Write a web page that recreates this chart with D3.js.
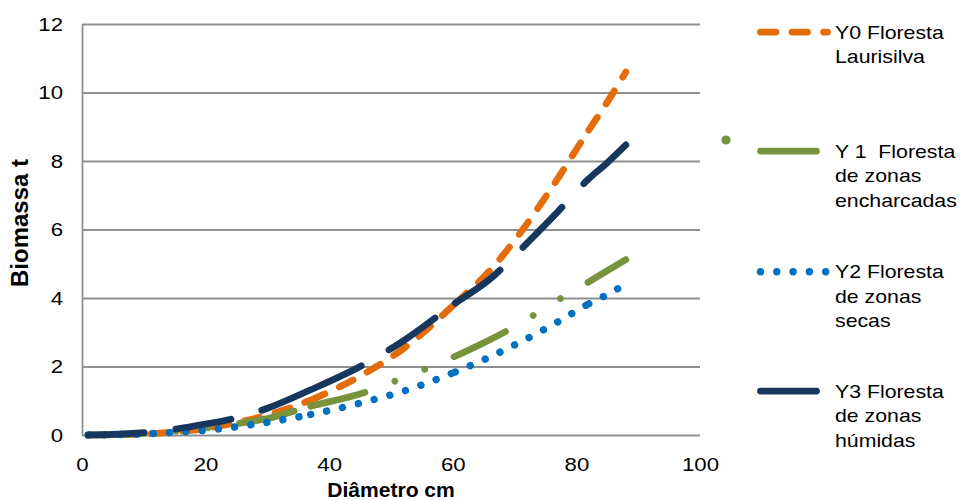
<!DOCTYPE html>
<html>
<head>
<meta charset="utf-8">
<script src="https://cdn.jsdelivr.net/npm/d3@7"></script>
<style>
  body { margin: 0; background: #fff; }
  svg { display: block; font-family: "Liberation Sans", Arial, sans-serif; }
  text { white-space: pre; }
</style>
</head>
<body>
<svg id="chart" width="960" height="500"></svg>
<script>
// Diameter (cm) at which each biomass curve is sampled
const diameters    = [1, 5, 10, 15, 20, 25, 30, 37, 45, 52, 60.4, 66, 71, 76, 82, 85, 88];
// Biomass (t) per forest type
const y0Laurisilva = [0, 0.005, 0.03, 0.09, 0.19, 0.36, 0.58, 1.02, 1.72, 2.52, 3.84, 4.8, 5.92, 7.22, 8.9, 9.72, 10.6];
const y1Encharcadas = [0, 0.01, 0.05, 0.11, 0.2, 0.33, 0.48, 0.84, 1.2, 1.67, 2.3, 2.78, 3.27, 3.83, 4.47, 4.8, 5.12];
const y2Secas      = [0, 0.01, 0.03, 0.08, 0.14, 0.24, 0.37, 0.6, 0.93, 1.28, 1.84, 2.28, 2.72, 3.2, 3.83, 4.1, 4.41];
const y3Humidas    = [0, 0.015, 0.07, 0.17, 0.32, 0.5, 0.78, 1.32, 2.0, 2.75, 3.85, 4.55, 5.42, 6.33, 7.48, 7.95, 8.47];

const seriesNames = [
  ["Y0 Floresta", "Laurisilva"],
  ["Y 1  Floresta", "de zonas", "encharcadas"],
  ["Y2 Floresta", "de zonas", "secas"],
  ["Y3 Floresta", "de zonas", "húmidas"]
];
const xTicks = [0, 20, 40, 60, 80, 100];
const yTicks = [0, 2, 4, 6, 8, 10, 12];
const xTitle = "Diâmetro cm";
const yTitle = "Biomassa t";
// Diameters where each stroke's dash pattern starts over
const dashBreaks = [37, 60.4, 82];

const seriesValues = [y0Laurisilva, y1Encharcadas, y2Secas, y3Humidas];
const seriesColors = ["#E46C0A", "#77933C", "#0070C0", "#17375E"];
const dashPatterns = [
  [15.5, 16],                          // dash
  [56, 32, 0.001, 32, 0.001, 32],      // long dash, dot, dot
  [0.001, 16.3],                       // round dots
  [56, 32]                             // long dash
];
const strokeWidths = [6.75, 6.75, 7.4, 6.75];
const gridColor = "#8f8f8f";

const svg = d3.select("#chart");
const plot = { left: 82, right: 700, top: 24, bottom: 435 };
const x = d3.scaleLinear().domain([0, 100]).range([plot.left, plot.right]);
const y = d3.scaleLinear().domain([0, 12]).range([plot.bottom, plot.top]);

// Widen glyphs along the text direction by a factor (the chart's type is set wide)
function stretch(sel, sx) {
  sel.each(function () {
    const w = this.getComputedTextLength();
    this.setAttribute("textLength", (w * sx).toFixed(2));
    this.setAttribute("lengthAdjust", "spacingAndGlyphs");
  });
}

// Y axis with horizontal gridlines
const yAxis = d3.axisLeft(y).tickValues(yTicks)
  .tickSize(-(plot.right - plot.left)).tickSizeOuter(0)
  .tickFormat(d3.format("d"));
const gy = svg.append("g").attr("transform", `translate(${plot.left},0)`).call(yAxis);
gy.select(".domain").attr("stroke", gridColor).attr("stroke-width", 1.8);
gy.selectAll(".tick line").attr("stroke", gridColor).attr("stroke-width", 1.8);
gy.selectAll(".tick text")
  .attr("x", -19).attr("dy", "0.35em")
  .attr("font-size", 18.5).attr("fill", "#000")
  .attr("font-family", "Liberation Sans, Arial, sans-serif")
  .call(stretch, 1.2);

// X axis labels
const xAxis = d3.axisBottom(x).tickValues(xTicks).tickSize(0).tickFormat(d3.format("d"));
const gx = svg.append("g").attr("transform", `translate(0,${plot.bottom})`).call(xAxis);
gx.select(".domain").remove();
gx.selectAll(".tick text")
  .attr("y", 36).attr("dy", 0)
  .attr("font-size", 18.5).attr("fill", "#000")
  .attr("font-family", "Liberation Sans, Arial, sans-serif")
  .call(stretch, 1.2);

// Axis titles
svg.append("text")
  .attr("x", (plot.left + plot.right) / 2).attr("y", 497)
  .attr("text-anchor", "middle").attr("font-weight", "bold")
  .attr("font-size", 19.5).attr("fill", "#000")
  .text(xTitle).call(stretch, 1.08);

svg.append("text")
  .attr("transform", "translate(28,223) rotate(-90) scale(1,1.15)")
  .attr("text-anchor", "middle").attr("font-weight", "bold")
  .attr("font-size", 20).attr("fill", "#000")
  .text(yTitle).call(stretch, 1.2);

// Dash array that restarts the pattern at each break along the path
function lengthAtX(node, px) {
  let lo = 0, hi = node.getTotalLength();
  for (let k = 0; k < 40; k++) {
    const mid = (lo + hi) / 2;
    if (node.getPointAtLength(mid).x < px) lo = mid; else hi = mid;
  }
  return (lo + hi) / 2;
}
function restartDashes(node, breakXs, pattern) {
  const total = node.getTotalLength();
  const stops = [0, ...breakXs.map(px => lengthAtX(node, px)), total];
  const arr = [];
  for (let s = 0; s < stops.length - 1; s++) {
    const L = stops[s + 1] - stops[s];
    if (arr.length % 2 === 1) arr.push(0);
    let pos = 0, k = 0;
    while (pos < L - 1e-6) {
      const seg = Math.min(pattern[k % pattern.length], L - pos);
      arr.push(seg);
      pos += seg;
      k++;
    }
  }
  if (arr.length % 2 === 1) arr.push(total);
  return arr.map(v => v.toFixed(3)).join(" ");
}

// Curves
const line = d3.line().x(d => x(d[0])).y(d => y(d[1])).curve(d3.curveMonotoneX);
const gSeries = svg.append("g");
seriesValues.forEach((vals, i) => {
  const pts = diameters.map((d, j) => [d, vals[j]]);
  const path = gSeries.append("path")
    .attr("d", line(pts))
    .attr("fill", "none")
    .attr("stroke", seriesColors[i])
    .attr("stroke-width", strokeWidths[i])
    .attr("stroke-linecap", "round")
    .attr("stroke-linejoin", "round");
  path.attr("stroke-dasharray", restartDashes(path.node(), dashBreaks.map(x), dashPatterns[i]));
});

// Legend
const legendX0 = 760.5, legendX1 = 827.5, legendTextX = 835;
const legendLineY = [32, 151, 271.7, 391];
const legendLineStep = 24.5;
const gLegend = svg.append("g");
seriesNames.forEach((lines, i) => {
  const ly = legendLineY[i];
  gLegend.append("path")
    .attr("d", `M${legendX0},${ly}H${legendX1}`)
    .attr("fill", "none")
    .attr("stroke", seriesColors[i])
    .attr("stroke-width", strokeWidths[i])
    .attr("stroke-linecap", "round")
    .attr("stroke-dasharray", dashPatterns[i].join(" "));
  lines.forEach((t, k) => {
    gLegend.append("text")
      .attr("x", legendTextX).attr("y", ly + 6.5 + k * legendLineStep)
      .attr("font-size", 18.5).attr("fill", "#000")
      .text(t).call(stretch, 1.15);
  });
});
// lone dot of the long-dash-dot-dot key, left of its sample
gLegend.append("circle")
  .attr("cx", legendX0 - 34.5).attr("cy", legendLineY[1] - 11)
  .attr("r", 4.6).attr("fill", seriesColors[1]);
</script>
</body>
</html>
